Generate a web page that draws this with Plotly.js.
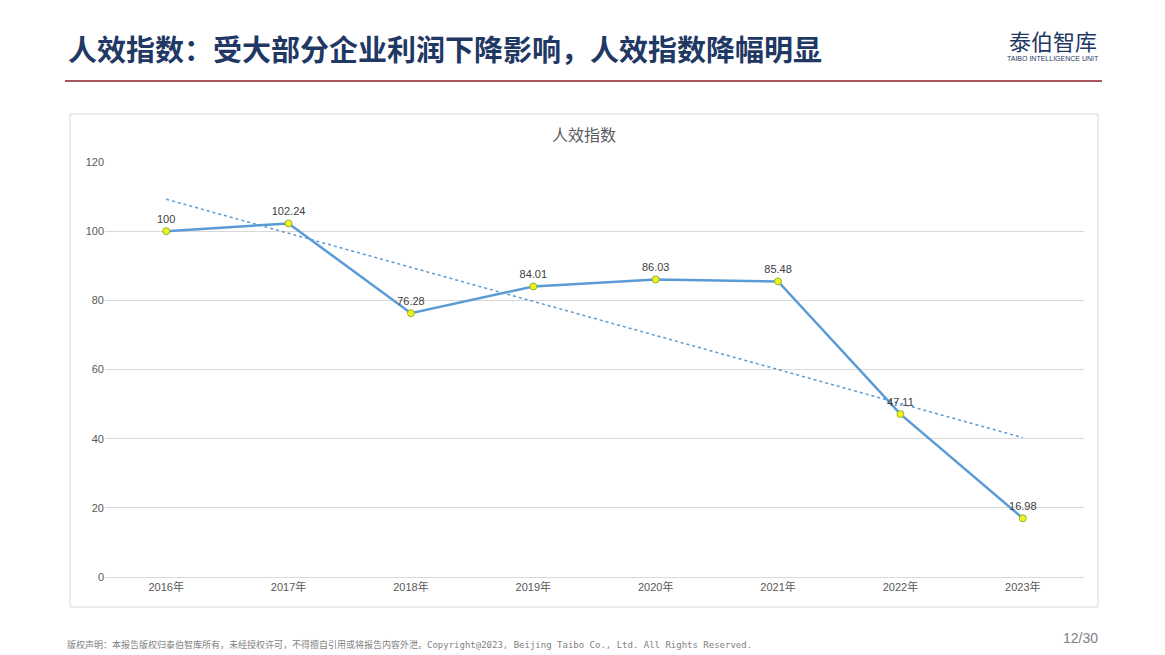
<!DOCTYPE html>
<html><head><meta charset="utf-8">
<script src="https://cdn.plot.ly/plotly-3.0.1.min.js"></script>
<style>html,body{margin:0;padding:0;background:#fff;}#chart{width:1165px;height:655px;}</style>
</head><body><div id="chart"></div>
<script>
const categories = ['2016年','2017年','2018年','2019年','2020年','2021年','2022年','2023年'];
const values = [100, 102.24, 76.28, 84.01, 86.03, 85.48, 47.11, 16.98];
const labels = ['100','102.24','76.28','84.01','86.03','85.48','47.11','16.98'];
const yTicks = [0, 20, 40, 60, 80, 100, 120];

// linear trendline (least squares) derived from the data
const n = values.length;
const xs = values.map((_, i) => i);
const mx = xs.reduce((a, b) => a + b, 0) / n;
const my = values.reduce((a, b) => a + b, 0) / n;
let sxy = 0, sxx = 0;
xs.forEach((x, i) => { sxy += (x - mx) * (values[i] - my); sxx += (x - mx) * (x - mx); });
const slope = sxy / sxx, icpt = my - slope * mx;
const trend = xs.map(x => icpt + slope * x);

const CJK = '"Noto Sans CJK SC", "Noto Sans", sans-serif';
const NUM = 'Arial, "Liberation Sans", "Noto Sans CJK SC", sans-serif';

const traces = [
  {x: categories, y: trend, type: 'scatter', mode: 'lines',
   line: {color: '#5B9BD5', width: 1.5, dash: 'dot'}, hoverinfo: 'skip'},
  {x: categories, y: values, type: 'scatter', mode: 'lines+markers+text',
   line: {color: '#5B9BD5', width: 2.5},
   marker: {size: 7, color: '#F2F21A', line: {color: '#8DB33A', width: 1}},
   text: labels, textposition: 'top center',
   textfont: {family: NUM, size: 11, color: '#404040'}}
];

const layout = {
  width: 1165, height: 655,
  paper_bgcolor: '#fff', plot_bgcolor: '#fff',
  showlegend: false,
  margin: {l: 105, r: 81, t: 162, b: 78},
  font: {family: CJK},
  xaxis: {type: 'category', range: [-0.5, 7.5], showgrid: false, zeroline: false,
          showline: true, linecolor: '#D9D9D9', linewidth: 1, ticks: '',
          tickfont: {family: NUM, size: 11, color: '#595959'}, fixedrange: true},
  yaxis: {range: [0, 120], tickvals: yTicks, showgrid: true, gridcolor: '#D9D9D9', gridwidth: 1,
          zeroline: false, showline: false, ticks: '', ticklen: 0,
          tickfont: {family: NUM, size: 11, color: '#595959'}, fixedrange: true},
  shapes: [
    {type: 'rect', xref: 'paper', yref: 'paper', x0: (70-105)/979, x1: (1098-105)/979,
     y0: (577-607)/415, y1: (577-114)/415, line: {color: '#D9D9D9', width: 1}, fillcolor: 'rgba(0,0,0,0)'},
    {type: 'line', xref: 'paper', yref: 'paper', x0: (65-105)/979, x1: (1102-105)/979,
     y0: (577-81)/415, y1: (577-81)/415, line: {color: '#A8585C', width: 2}}
  ],
  annotations: [
    {text: '人效指数：受大部分企业利润下降影响，人效指数降幅明显', xref: 'paper', yref: 'paper',
     x: (66-105)/979, y: (577-48)/415, xanchor: 'left', yanchor: 'middle', showarrow: false,
     font: {family: CJK, size: 29, color: '#1F3864', weight: 'bold'}},
    {text: '泰伯智库', xref: 'paper', yref: 'paper',
     x: (1053-105)/979, y: (577-40)/415, xanchor: 'center', yanchor: 'middle', showarrow: false,
     font: {family: CJK, size: 22, color: '#1F3864'}},
    {text: 'TAIBO INTELLIGENCE UNIT', xref: 'paper', yref: 'paper',
     x: (1053-105)/979, y: (577-58)/415, xanchor: 'center', yanchor: 'middle', showarrow: false,
     font: {family: NUM, size: 7, color: '#1F3864'}},
    {text: '人效指数', xref: 'paper', yref: 'paper',
     x: (584-105)/979, y: (577-134)/415, xanchor: 'center', yanchor: 'middle', showarrow: false,
     font: {family: CJK, size: 16, color: '#595959'}},
    {text: '版权声明：本报告版权归泰伯智库所有，未经授权许可，不得擅自引用或将报告内容外泄。Copyright@2023, Beijing Taibo Co., Ltd. All Rights Reserved.',
     xref: 'paper', yref: 'paper', x: (65-105)/979, y: (577-644)/415, xanchor: 'left', yanchor: 'middle',
     showarrow: false, font: {family: '"DejaVu Sans Mono", "Noto Sans CJK SC", monospace', size: 9, color: '#7F7F7F'}},
    {text: '12/30', xref: 'paper', yref: 'paper', x: (1100-105)/979, y: (577-638)/415,
     xanchor: 'right', yanchor: 'middle', showarrow: false,
     font: {family: NUM, size: 14, color: '#7F7F7F'}}
  ]
};

Plotly.newPlot('chart', traces, layout, {displayModeBar: false, staticPlot: true});
</script>
</body></html>
